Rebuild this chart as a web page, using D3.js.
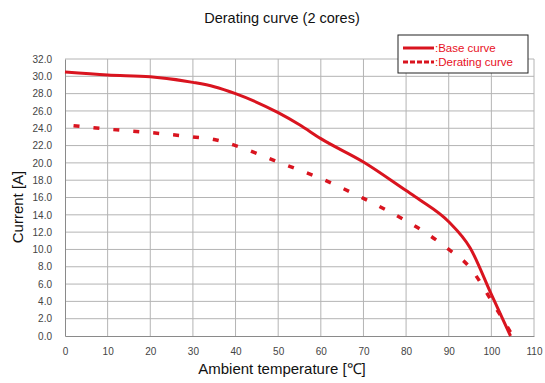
<!DOCTYPE html>
<html>
<head>
<meta charset="utf-8">
<script src="https://cdn.jsdelivr.net/npm/d3@7"></script>
<style>
  body { margin: 0; background: #fff; }
  svg { font-family: "Liberation Sans", Arial, sans-serif; }
</style>
</head>
<body>
<svg id="chart" width="545" height="383"></svg>
<script>
// temperatures (deg C) and current (A)
var baseTemp = [0, 10, 20, 30, 35, 40, 50, 55, 60, 70, 80, 83, 90, 95, 100, 104.5];
var baseCurrent = [30.5, 30.15, 29.95, 29.3, 28.8, 28.0, 25.8, 24.4, 22.8, 20.1, 16.8, 15.8, 13.2, 10.2, 4.8, 0];
var deratingTemp = [2, 10, 20, 30, 35, 40, 50, 60, 70, 80, 85, 90, 95, 100, 105];
var deratingCurrent = [24.3, 23.9, 23.5, 23.0, 22.7, 22.0, 20.1, 18.2, 15.9, 13.3, 11.8, 10.0, 7.9, 4.1, 0];
var xTicks = d3.range(0, 111, 10);
var yTicks = d3.range(0, 33, 2);
var legendLabels = [":Base curve", ":Derating curve"];

var red = "#d9141f";
var svg = d3.select("#chart");
var margin = { top: 59, right: 11, bottom: 47, left: 65 },
  width = 545 - margin.left - margin.right,
  height = 383 - margin.top - margin.bottom;

var x = d3.scaleLinear().domain([0, 110]).range([0, width]);
var y = d3.scaleLinear().domain([0, 32]).range([height, 0]);

var g = svg.append("g")
  .attr("transform", "translate(" + margin.left + "," + margin.top + ")");

// grid
g.append("g").selectAll("line")
  .data(xTicks.slice(1))
  .enter().append("line")
  .attr("x1", d => x(d)).attr("x2", d => x(d))
  .attr("y1", 0).attr("y2", height)
  .attr("stroke", "#b4b4b4").attr("stroke-width", 1);
g.append("g").selectAll("line")
  .data(yTicks.slice(1))
  .enter().append("line")
  .attr("x1", 0).attr("x2", width)
  .attr("y1", d => y(d)).attr("y2", d => y(d))
  .attr("stroke", "#b4b4b4").attr("stroke-width", 1);

// axes
var xAxis = g.append("g")
  .attr("transform", "translate(0," + height + ")")
  .call(d3.axisBottom(x).tickValues(xTicks).tickSize(0).tickPadding(12));
var yAxis = g.append("g")
  .call(d3.axisLeft(y).tickValues(yTicks).tickFormat(d3.format(".1f")).tickSize(0).tickPadding(13));
[xAxis, yAxis].forEach(function(a) {
  a.select(".domain").attr("stroke", "#8a8a8a");
  a.selectAll("text").attr("fill", "#444").attr("font-size", 10);
});

// lines
var line = d3.line()
  .x(d => x(d[0]))
  .y(d => y(d[1]))
  .curve(d3.curveMonotoneX);

g.append("path")
  .datum(d3.zip(baseTemp, baseCurrent))
  .attr("d", line)
  .attr("fill", "none")
  .attr("stroke", red)
  .attr("stroke-width", 3);

g.append("path")
  .datum(d3.zip(deratingTemp, deratingCurrent))
  .attr("d", line)
  .attr("fill", "none")
  .attr("stroke", red)
  .attr("stroke-width", 3.5)
  .attr("stroke-dasharray", "6,14");

// title and axis labels
svg.append("text")
  .attr("x", 282).attr("y", 23)
  .attr("text-anchor", "middle")
  .attr("font-size", 14.5)
  .attr("fill", "#111")
  .text("Derating curve (2 cores)");

svg.append("text")
  .attr("x", 282).attr("y", 374)
  .attr("text-anchor", "middle")
  .attr("font-size", 15)
  .attr("fill", "#111")
  .text("Ambient temperature [℃]");

svg.append("text")
  .attr("transform", "translate(23,207) rotate(-90)")
  .attr("text-anchor", "middle")
  .attr("font-size", 15)
  .attr("fill", "#111")
  .text("Current [A]");

// legend
var legend = svg.append("g").attr("transform", "translate(398,35)");
legend.append("rect")
  .attr("width", 130).attr("height", 38)
  .attr("fill", "#fff")
  .attr("stroke", "#222").attr("stroke-width", 1);
var rows = legend.selectAll("g.row")
  .data(legendLabels)
  .enter().append("g")
  .attr("class", "row")
  .attr("transform", (d, i) => "translate(0," + (13 + i * 14) + ")");
rows.append("line")
  .attr("x1", 5).attr("x2", 36)
  .attr("stroke", red)
  .attr("stroke-width", 3)
  .attr("stroke-dasharray", (d, i) => i ? "5,2" : null);
rows.append("text")
  .attr("x", 37).attr("dy", "0.35em")
  .attr("font-size", 11.5)
  .attr("fill", "#e8101e")
  .text(d => d);
</script>
</body>
</html>
